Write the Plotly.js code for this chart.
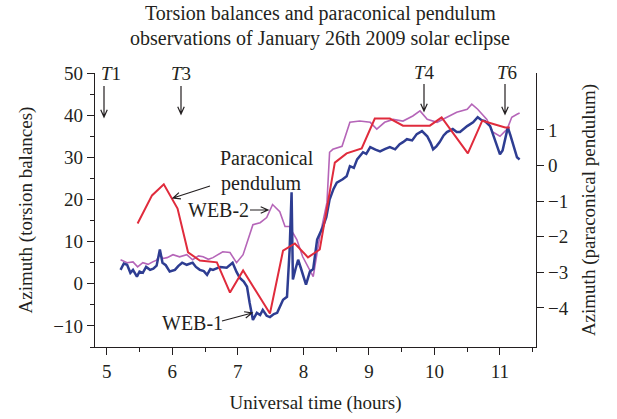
<!DOCTYPE html>
<html>
<head>
<meta charset="utf-8">
<script src="https://cdn.plot.ly/plotly-3.0.1.min.js"></script>
<style>html,body{margin:0;padding:0;background:#fff;}#chart{width:617px;height:419px;}</style>
</head>
<body>
<div id="chart"></div>
<script>
// WEB-1 torsion balance (left axis)
const web1Hours = [5.21,5.26,5.31,5.36,5.40,5.46,5.50,5.55,5.60,5.66,5.71,5.76,5.81,5.85,5.90,5.96,6.04,6.09,6.15,6.22,6.31,6.36,6.42,6.48,6.53,6.58,6.62,6.68,6.73,6.83,6.92,6.98,7.03,7.09,7.14,7.18,7.23,7.29,7.34,7.38,7.44,7.49,7.55,7.60,7.69,7.75,7.79,7.82,7.84,7.88,7.92,7.96,7.99,8.04,8.10,8.15,8.21,8.30,8.35,8.40,8.46,8.51,8.60,8.66,8.71,8.77,8.82,8.91,8.96,9.02,9.10,9.17,9.25,9.32,9.40,9.47,9.52,9.58,9.66,9.73,9.81,9.89,9.94,9.98,10.03,10.08,10.14,10.19,10.28,10.34,10.39,10.45,10.50,10.59,10.66,10.72,10.77,10.85,10.92,11.00,11.04,11.08,11.12,11.16,11.20,11.26,11.30];
const web1Azimuth = [3.3,4.8,4.5,2.6,3.3,1.7,2.9,2.6,4.0,3.3,3.6,4.3,8.1,5.0,4.4,2.9,3.3,4.2,5.0,4.5,5.0,4.0,3.3,3.0,2.1,3.5,3.3,3.6,4.0,3.8,5.0,2.8,1.4,0.5,-0.7,-4.5,-8.6,-6.9,-7.4,-6.2,-7.6,-7.9,-7.2,-6.9,-3.8,-3.1,8.0,21.7,1.0,3.5,5.7,3.8,2.1,-0.2,2.9,3.5,10.5,13.6,15.8,20.0,22.5,24.0,24.8,25.5,27.9,27.5,29.5,31.2,30.8,32.4,31.8,31.4,32.0,32.4,31.9,33.1,33.6,34.3,34.0,35.5,36.2,35.0,33.5,31.9,32.6,33.6,35.2,36.0,36.7,36.0,36.0,36.8,37.4,38.3,39.5,38.8,38.6,37.4,34.3,30.7,31.6,34.3,37.1,35.2,33.1,30.0,29.5];

// WEB-2 torsion balance (left axis)
const web2Hours = [5.21,5.31,5.40,5.47,5.55,5.63,5.70,5.76,5.81,5.86,5.92,6.01,6.11,6.22,6.31,6.40,6.47,6.55,6.62,6.70,6.77,6.88,6.98,7.08,7.14,7.23,7.34,7.44,7.53,7.58,7.64,7.72,7.79,7.85,7.90,7.99,8.10,8.15,8.25,8.36,8.40,8.45,8.59,8.65,8.71,8.86,9.02,9.12,9.24,9.37,9.52,9.67,9.78,9.89,10.04,10.19,10.34,10.50,10.57,10.66,10.80,10.89,11.00,11.11,11.18,11.26,11.30];
const web2Azimuth = [5.7,5.0,5.2,4.0,5.0,4.6,5.2,5.6,6.9,6.0,6.2,6.9,6.4,6.9,5.7,6.6,6.4,5.8,6.2,7.0,7.6,7.4,5.0,6.9,9.8,14.0,14.5,15.7,18.8,18.0,17.1,13.6,13.6,11.8,10.5,6.4,3.3,1.7,11.2,19.3,31.2,31.9,32.6,35.5,38.3,38.6,38.3,36.7,38.3,39.0,38.6,39.8,41.0,39.0,38.3,39.5,40.7,41.4,42.6,41.4,39.0,36.0,35.0,36.7,39.5,40.2,40.5];

// Paraconical pendulum (right axis)
const pendulumHours = [5.47,5.69,5.87,6.08,6.24,6.42,6.68,6.88,7.08,7.49,7.69,7.87,8.07,8.25,8.48,8.66,8.89,9.09,9.32,9.52,9.93,10.11,10.51,10.73,11.08,11.15];
const pendulumAzimuth = [-1.63,-0.84,-0.53,-1.21,-2.44,-2.67,-2.72,-3.57,-2.95,-4.16,-2.39,-2.19,-2.58,-2.36,0.08,0.34,0.48,1.32,1.32,1.12,1.12,1.35,0.34,1.26,1.07,1.07];

const xTicks = [5,6,7,8,9,10,11];
const leftTicks = [-10,0,10,20,30,40,50];
const rightTicks = [-4,-3,-2,-1,0,1];

const W = 617, H = 419, ML = 95, MR = 81, MT = 73, MB = 72;
const PW = W - ML - MR, PH = H - MT - MB;
const px = X => (X - ML) / PW;
const py = Y => (H - MB - Y) / PH;

function arrowPath(x0, y0, x1, y1) {
  const a = Math.atan2(y1 - y0, x1 - x0), L = 8, s = 0.42;
  const h1 = [x1 - L * Math.cos(a - s), y1 - L * Math.sin(a - s)];
  const h2 = [x1 - L * Math.cos(a + s), y1 - L * Math.sin(a + s)];
  return `M${px(x0)},${py(y0)} L${px(x1)},${py(y1)} M${px(h1[0])},${py(h1[1])} L${px(x1)},${py(y1)} L${px(h2[0])},${py(h2[1])}`;
}
const arrows = [
  [104, 86, 104, 117], [181, 86, 181, 114], [424, 84, 424, 111], [505, 84, 505, 114],
  [210, 186, 173, 198], [250, 210, 268, 210], [222, 321, 252, 313]
];
const shapes = arrows.map(a => ({type:'path', xref:'paper', yref:'paper', path: arrowPath(...a), line:{color:'#231f20', width:1.2}}));

const font = 'Liberation Serif, Times New Roman, serif';
const txt = (t, X, Y, anchor, size) => ({text:t, xref:'paper', yref:'paper', x:px(X), y:py(Y), xanchor:anchor||'center', yanchor:'middle', showarrow:false, font:{family:font, size:size||20, color:'#231f20'}});
const annotations = [
  txt('Torsion balances and paraconical pendulum', 320, 13),
  txt('observations of January 26th 2009 solar eclipse', 320, 38),
  txt('<i>T</i>1', 111, 73, 'center', 19), txt('<i>T</i>3', 181, 73, 'center', 19), txt('<i>T</i>4', 424, 72, 'center', 19), txt('<i>T</i>6', 507, 72, 'center', 19),
  txt('Paraconical', 218, 158, 'left'), txt('pendulum', 219, 183, 'left'),
  txt('WEB-2', 186, 210, 'left'), txt('WEB-1', 160, 323, 'left')
];

const traces = [
  {x: web2Hours, y: web2Azimuth, name:'WEB-2', type:'scatter', mode:'lines', line:{color:'#b565b8', width:1.6}, yaxis:'y'},
  {x: pendulumHours, y: pendulumAzimuth, name:'Paraconical pendulum', type:'scatter', mode:'lines', line:{color:'#e02b3c', width:2}, yaxis:'y2'},
  {x: web1Hours, y: web1Azimuth, name:'WEB-1', type:'scatter', mode:'lines', line:{color:'#2e3d92', width:2.5}, yaxis:'y'}
];

const axFont = {family:font, size:19, color:'#231f20'};
const layout = {
  width: W, height: H,
  margin: {l: ML, r: MR, t: MT, b: MB, pad: 0},
  paper_bgcolor:'#fff', plot_bgcolor:'#fff',
  showlegend:false,
  font: axFont,
  xaxis: {range:[4.82, 11.55], tickvals:xTicks, ticks:'outside', ticklen:7, tickcolor:'#231f20', showline:true, linecolor:'#231f20', linewidth:1.3, showgrid:false, zeroline:false, tickfont:axFont,
    minor:{ticks:'outside', dtick:0.5, tick0:5, ticklen:4, tickcolor:'#231f20', showgrid:false},
    title:{text:'Universal time (hours)', font:axFont, standoff:14}},
  yaxis: {range:[-15, 50], tickvals:leftTicks, ticks:'outside', ticklen:7, tickcolor:'#231f20', showline:true, linecolor:'#231f20', linewidth:1.3, showgrid:false, zeroline:false, tickfont:axFont,
    minor:{ticks:'outside', dtick:5, tick0:0, ticklen:4, tickcolor:'#231f20', showgrid:false},
    title:{text:'Azimuth (torsion balances)', font:axFont, standoff:15}},
  yaxis2: {range:[-5.10, 2.60], overlaying:'y', side:'right', tickvals:rightTicks, ticks:'outside', ticklen:7, tickcolor:'#231f20', showline:true, linecolor:'#231f20', linewidth:1.3, showgrid:false, zeroline:false, tickfont:axFont,
    title:{text:'Azimuth (paraconical pendulum)', font:axFont, standoff:14}},
  shapes: shapes,
  annotations: annotations
};
Plotly.newPlot('chart', traces, layout, {staticPlot:true, displayModeBar:false});
</script>
</body>
</html>
